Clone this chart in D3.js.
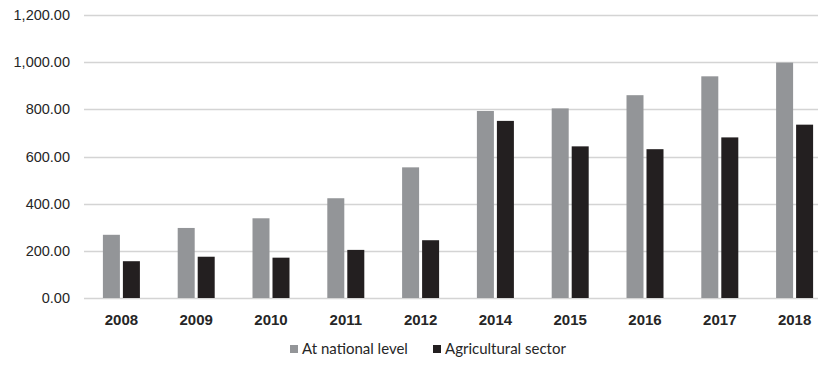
<!DOCTYPE html>
<html>
<head>
<meta charset="utf-8">
<script src="https://cdn.jsdelivr.net/npm/d3@7"></script>
<style>
  html, body { margin: 0; padding: 0; background: #fff; }
  svg { display: block; font-family: Lato, "Open Sans", sans-serif; }
</style>
</head>
<body>
<svg id="chart" width="820" height="365"></svg>
<script>
// Years shown on the category axis
const years = ["2008", "2009", "2010", "2011", "2012", "2014", "2015", "2016", "2017", "2018"];
// Series values
const national = [268, 297, 338, 423, 554, 793, 804, 860, 940, 998];
const agricultural = [156, 175, 171, 204, 245, 751, 643, 631, 681, 735];
const seriesNames = ["At national level", "Agricultural sector"];
const seriesColors = ["#939598", "#231f20"];
// Value axis ticks
const yTicks = [0, 200, 400, 600, 800, 1000, 1200];

(function draw() {
  const svg = d3.select("#chart");
  const plotLeft = 84, gridRight = 818, plotTop = 15, plotBottom = 298;

  const x = d3.scaleBand().domain(years).range([plotLeft, plotLeft + 748]).padding(0);
  const y = d3.scaleLinear().domain([0, 1200]).range([plotBottom, plotTop]);

  const fmt = d3.format(",.2f");

  // Gridlines
  svg.append("g").selectAll("line").data(yTicks).join("line")
    .attr("x1", plotLeft).attr("x2", gridRight)
    .attr("y1", d => Math.round(y(d)) + 0.5).attr("y2", d => Math.round(y(d)) + 0.5)
    .attr("stroke", "#d4d4d4").attr("stroke-width", 1.4);

  // Y axis labels
  const yAxis = d3.axisLeft(y).tickValues(yTicks).tickFormat(fmt).tickSize(0).tickPadding(0);
  const yg = svg.append("g").attr("transform", "translate(70,0)").call(yAxis);
  yg.select(".domain").remove();
  yg.selectAll("text").attr("font-size", 14.5).attr("fill", "#262626");

  // X axis labels
  const xAxis = d3.axisBottom(x).tickSize(0).tickPadding(0);
  const xg = svg.append("g").attr("transform", `translate(0,${plotBottom + 16})`).call(xAxis);
  xg.select(".domain").remove();
  xg.selectAll("text").attr("font-size", 15).attr("fill", "#262626").attr("dy", "0.71em")
    .attr("font-weight", 600);

  // Bars
  const barW = 17, gap = 3;
  const groups = svg.append("g").selectAll("g").data(years).join("g")
    .attr("transform", d => `translate(${x(d) + x.bandwidth() / 2},0)`);

  groups.append("rect")
    .attr("x", -barW - gap / 2)
    .attr("width", barW)
    .attr("y", (d, i) => y(national[i]))
    .attr("height", (d, i) => y(0) - y(national[i]))
    .attr("fill", seriesColors[0]);

  groups.append("rect")
    .attr("x", gap / 2)
    .attr("width", barW)
    .attr("y", (d, i) => y(agricultural[i]))
    .attr("height", (d, i) => y(0) - y(agricultural[i]))
    .attr("fill", seriesColors[1]);

  // Legend
  const legendX = [290, 433];
  const lg = svg.append("g").selectAll("g").data(seriesNames).join("g")
    .attr("transform", (d, i) => `translate(${legendX[i]},354)`);
  lg.append("rect").attr("x", 0).attr("y", -9).attr("width", 8).attr("height", 8)
    .attr("fill", (d, i) => seriesColors[i]);
  lg.append("text").attr("x", 12).attr("y", 0).attr("font-size", 15).attr("fill", "#262626")
    .text(d => d);
})();
</script>
</body>
</html>
